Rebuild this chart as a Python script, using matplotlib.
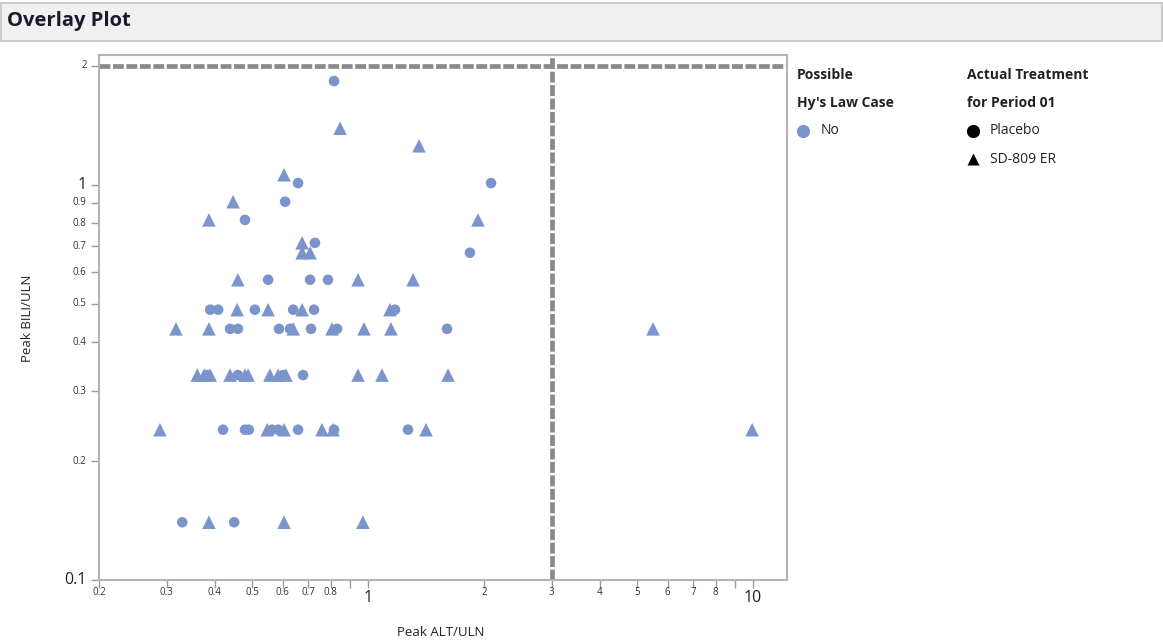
import matplotlib
matplotlib.use("Agg")
import matplotlib.pyplot as plt
from matplotlib.patches import Rectangle
from matplotlib.lines import Line2D
from matplotlib.ticker import FixedLocator, NullFormatter, NullLocator

plt.rcParams['font.family'] = ['Open Sans', 'DejaVu Sans']

# ---- data ----
placebo_alt = [0.816, 0.658, 2.087, 0.609, 0.479, 0.728, 1.84,
               0.550, 0.707, 0.787,
               0.389, 0.408, 0.508, 0.639, 0.724, 1.175,
               0.438, 0.459, 0.587, 0.627, 0.711, 0.831, 1.604,
               0.382, 0.459, 0.602, 0.678,
               0.420, 0.479, 0.490, 0.563, 0.584, 0.658, 0.816, 1.27,
               0.329, 0.449]
placebo_bili = [1.83, 1.01, 1.01, 0.906, 0.815, 0.713, 0.673,
                0.575, 0.575, 0.575,
                0.483, 0.483, 0.483, 0.483, 0.483, 0.483,
                0.432, 0.432, 0.432, 0.432, 0.432, 0.432, 0.432,
                0.33, 0.33, 0.33, 0.33,
                0.24, 0.24, 0.24, 0.24, 0.24, 0.24, 0.24, 0.24,
                0.14, 0.14]

sd809_alt = [0.846, 1.357, 0.605, 0.446, 0.386, 1.93, 0.674, 0.674, 0.707,
             0.459, 0.942, 1.309,
             0.457, 0.550, 0.674, 1.14,
             0.317, 0.386, 0.639, 0.806, 0.976, 1.147, 5.5,
             0.360, 0.375, 0.389, 0.438, 0.479, 0.488, 0.556, 0.584, 0.612,
             0.942, 1.087, 1.614,
             0.288, 0.547, 0.605, 0.759, 0.811, 1.415, 9.95,
             0.386, 0.605, 0.97]
sd809_bili = [1.39, 1.255, 1.06, 0.906, 0.815, 0.815, 0.713, 0.673, 0.673,
              0.575, 0.575, 0.575,
              0.483, 0.483, 0.483, 0.483,
              0.432, 0.432, 0.432, 0.432, 0.432, 0.432, 0.432,
              0.33, 0.33, 0.33, 0.33, 0.33, 0.33, 0.33, 0.33, 0.33,
              0.33, 0.33, 0.33,
              0.24, 0.24, 0.24, 0.24, 0.24, 0.24, 0.24,
              0.14, 0.14, 0.14]

ref_alt = 3
ref_bili = 2

x_ticks_big = [1, 10]
x_ticks_small = [0.2, 0.3, 0.4, 0.5, 0.6, 0.7, 0.8, 2, 3, 4, 5, 6, 7, 8]
x_ticks_nolabel = [0.9, 9]
y_ticks_big = [0.1, 1]
y_ticks_small = [0.2, 0.3, 0.4, 0.5, 0.6, 0.7, 0.8, 0.9, 2]

W, H = 1163, 644
fig = plt.figure(figsize=(W / 100, H / 100), dpi=100)
fig.patch.set_facecolor('white')

def fx(px):
    return px / W

def fy(py):
    return 1 - py / H

# title bar
fig.add_artist(Rectangle((fx(1), fy(41)), fx(1161), 38 / H, transform=fig.transFigure,
                         facecolor='#f0f0f0', edgecolor='#c4c4c4', lw=1.2))
fig.text(fx(7), fy(21), 'Overlay Plot', fontsize=14.5, fontweight='bold',
         color='#1a1a2e', va='center', ha='left')

ax = fig.add_axes([fx(99), fy(580), fx(787) - fx(99), (580 - 55) / H])
ax.set_xscale('log')
ax.set_yscale('log')
ax.set_xlim(0.2, 12.26)
ax.set_ylim(0.1, 2.13)

col = '#7b94cc'
ax.scatter(placebo_alt, placebo_bili, marker='o', s=58, color=col, edgecolors='none', zorder=3)
ax.scatter(sd809_alt, sd809_bili, marker='^', s=95, color=col, edgecolors='none', zorder=3)

ls = (0, (2.3, 0.55))
ax.axhline(ref_bili, color='#8a8a8a', lw=3.4, linestyle=ls, zorder=2)
ax.axvline(ref_alt, color='#8a8a8a', lw=3.4, linestyle=ls, zorder=2)

for s in ax.spines.values():
    s.set_color('#b4b4b4')
    s.set_linewidth(1.5)

ax.xaxis.set_major_locator(FixedLocator(sorted(x_ticks_big + x_ticks_small + x_ticks_nolabel)))
ax.xaxis.set_minor_locator(NullLocator())
ax.yaxis.set_major_locator(FixedLocator(sorted(y_ticks_big + y_ticks_small)))
ax.yaxis.set_minor_locator(NullLocator())
ax.xaxis.set_major_formatter(NullFormatter())
ax.yaxis.set_major_formatter(NullFormatter())
ax.tick_params(axis='both', direction='out', length=6, width=1, color='#9a9a9a')

def fmt(v):
    return ('%g' % v)

for v in x_ticks_small:
    ax.text(v, -0.014, fmt(v), transform=ax.get_xaxis_transform(), ha='center', va='top',
            fontsize=7, color='#333333')
for v in x_ticks_big:
    ax.text(v, -0.02, fmt(v), transform=ax.get_xaxis_transform(), ha='center', va='top',
            fontsize=11.5, color='#222222')
for v in y_ticks_small:
    ax.text(-0.018, v, fmt(v), transform=ax.get_yaxis_transform(), ha='right', va='center',
            fontsize=7, color='#333333')
for v in y_ticks_big:
    ax.text(-0.018, v, fmt(v), transform=ax.get_yaxis_transform(), ha='right', va='center',
            fontsize=11.5, color='#222222')

fig.text(fx(441), fy(632), 'Peak ALT/ULN', ha='center', va='center', fontsize=9.5, color='#222222')
fig.text(fx(28), fy(318), 'Peak BILI/ULN', ha='center', va='center', rotation=90,
         fontsize=9.5, color='#222222')

# legend
lg_kw = dict(fontsize=10, fontweight='bold', color='#222222', va='center', ha='left')
fig.text(fx(797), fy(75), 'Possible', **lg_kw)
fig.text(fx(797), fy(103), "Hy's Law Case", **lg_kw)
fig.text(fx(967), fy(75), 'Actual Treatment', **lg_kw)
fig.text(fx(967), fy(103), 'for Period 01', **lg_kw)

fig.add_artist(Line2D([fx(803)], [fy(131)], transform=fig.transFigure, marker='o',
                      markersize=9.5, color=col, markeredgecolor='none', linestyle='none'))
fig.text(fx(821), fy(131), 'No', fontsize=10, color='#222222', va='center', ha='left')
fig.add_artist(Line2D([fx(973)], [fy(131)], transform=fig.transFigure, marker='o',
                      markersize=9.5, color='black', markeredgecolor='none', linestyle='none'))
fig.text(fx(990), fy(131), 'Placebo', fontsize=10, color='#222222', va='center', ha='left')
fig.add_artist(Line2D([fx(973)], [fy(159)], transform=fig.transFigure, marker='^',
                      markersize=8.5, color='black', markeredgecolor='none', linestyle='none'))
fig.text(fx(990), fy(159), 'SD-809 ER', fontsize=10, color='#222222', va='center', ha='left')

fig.savefig('out.png', dpi=100)
